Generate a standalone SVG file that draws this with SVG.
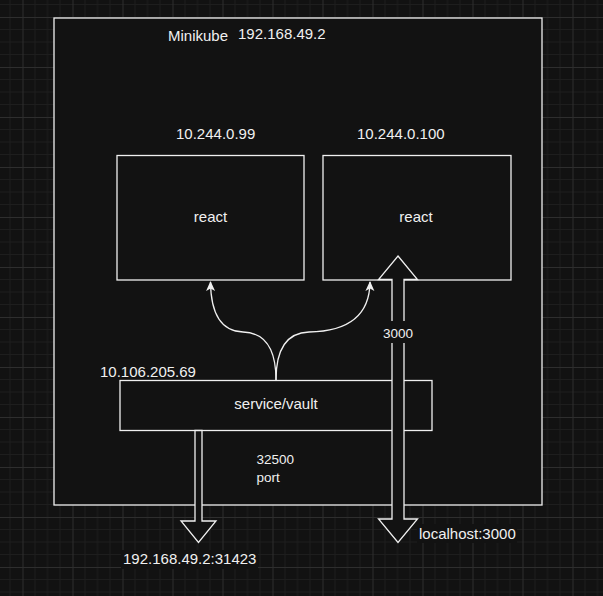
<svg xmlns="http://www.w3.org/2000/svg" width="603" height="596" viewBox="0 0 603 596">
<style>
.box{fill:#121212;stroke:#f0f0f0;stroke-width:1.3}
.t{font-family:"Liberation Sans",Arial,sans-serif;font-size:15px;fill:#f0f0f0}
.s{font-size:13.5px}
.edge{fill:none;stroke:#f0f0f0;stroke-width:1.3}
.flex{fill:#121212;stroke:#f0f0f0;stroke-width:1.3;stroke-linejoin:miter}
.lbg{fill:#121212}
</style>
<defs>
<pattern id="grid" patternUnits="userSpaceOnUse" x="22.5" y="17" width="50" height="50">
<rect width="50" height="50" fill="#121212"/>
<path d="M12.5,0V50M25,0V50M37.5,0V50M0,12.5H50M0,25H50M0,37.5H50" stroke="#1e1e1e" stroke-width="1"/>
<path d="M0.5,0V50M0,0.5H50" stroke="#2e2e2e" stroke-width="1"/>
</pattern>
<marker id="arr" viewBox="0 0 10 10" refX="9" refY="5" markerWidth="10" markerHeight="10" markerUnits="userSpaceOnUse" orient="auto">
<path d="M0,0.5 L10,5 L0,9.5 L2.5,5 Z" fill="#f0f0f0"/>
</marker>
</defs>
<rect width="603" height="596" fill="url(#grid)"/>

<g id="minikube">
<rect class="box" x="54" y="18" width="488" height="487"/>
<text class="t" x="168" y="40.5">Minikube</text>
<text class="t" x="238" y="39">192.168.49.2</text>
</g>

<g id="pod1">
<text class="t" x="176" y="139">10.244.0.99</text>
<rect class="box" x="117" y="155.5" width="187" height="124.5"/>
<text class="t" x="210.5" y="222" text-anchor="middle">react</text>
</g>

<g id="pod2">
<text class="t" x="357" y="139">10.244.0.100</text>
<rect class="box" x="323" y="155.5" width="188" height="124.5"/>
<text class="t" x="416" y="222" text-anchor="middle">react</text>
</g>

<g id="service">
<text class="t" x="100" y="377">10.106.205.69</text>
<rect class="box" x="120" y="380.5" width="312" height="50"/>
<text class="t" x="276" y="409" text-anchor="middle">service/vault</text>
</g>

<g id="connectors">
<path class="edge" d="M276,380 Q276,333 243,332 Q211,331 210.5,282" marker-end="url(#arr)"/>
<path class="edge" d="M276,380 Q276,333 309,332 Q369.5,331 370,282" marker-end="url(#arr)"/>
<path class="flex" d="M195,430.5 L195,521 L181,521 L198.5,542.5 L216,521 L202,521 L202,430.5 Z"/>
<path class="flex" d="M398,256 L417.5,279.5 L404,279.5 L404,519 L417.5,519 L398,542.5 L378.5,519 L392,519 L392,279.5 L378.5,279.5 Z"/>
<rect class="lbg" x="382" y="321" width="32" height="22"/>
<text class="t s" x="398" y="338" text-anchor="middle">3000</text>
</g>

<g id="labels">
<text class="t s" x="256.5" y="464">32500</text>
<text class="t s" x="256.5" y="482">port</text>
<rect class="lbg" x="417" y="524" width="100" height="19"/>
<text class="t" x="419" y="538.5">localhost:3000</text>
<rect class="lbg" x="121" y="550" width="137" height="19"/>
<text class="t" x="123" y="564">192.168.49.2:31423</text>
</g>
</svg>
